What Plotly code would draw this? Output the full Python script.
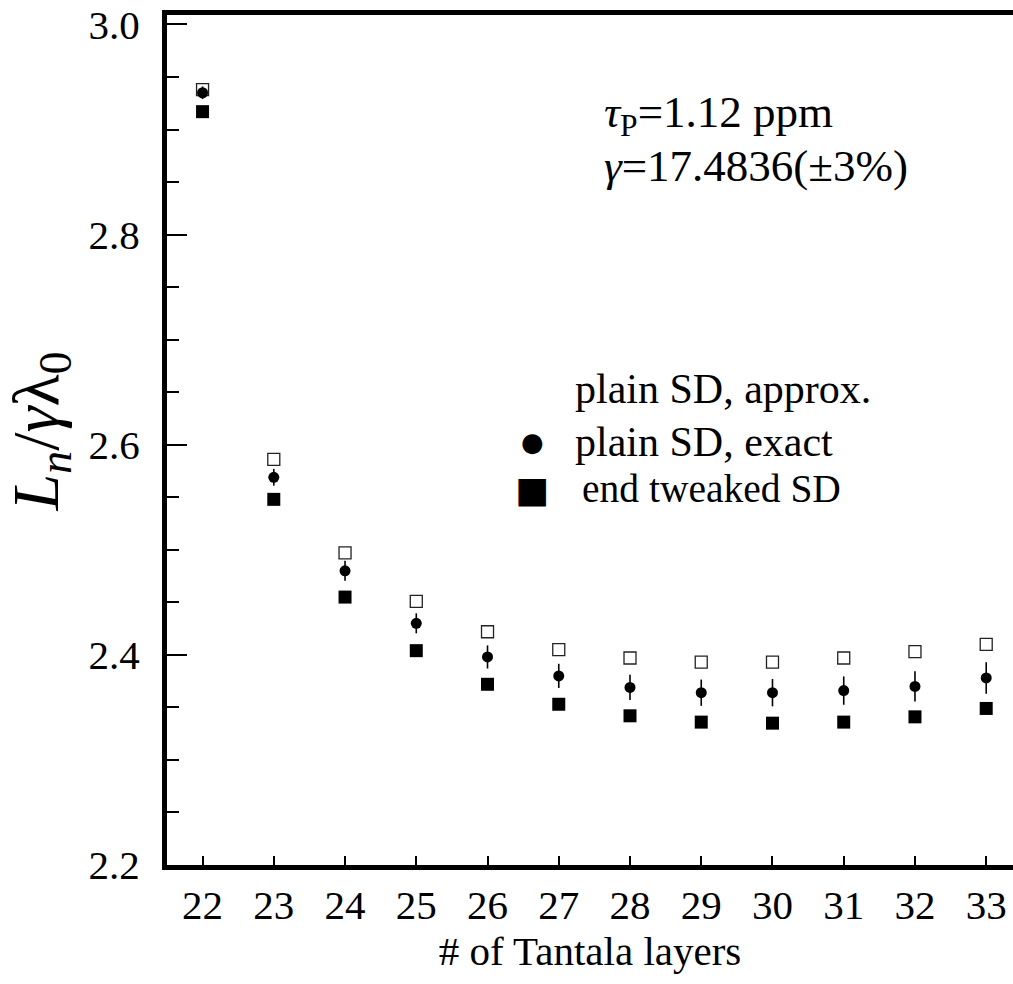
import plotly.graph_objects as go

# Number of Tantala layers in the coating stack
layers = [22, 23, 24, 25, 26, 27, 28, 29, 30, 31, 32, 33]

# Normalized length L_n / (gamma * lambda_0) for each design
plain_approx = [2.938, 2.586, 2.497, 2.451, 2.422, 2.405, 2.397, 2.393, 2.393, 2.397, 2.403, 2.410]
plain_exact = [2.935, 2.569, 2.480, 2.430, 2.398, 2.380, 2.369, 2.364, 2.364, 2.366, 2.370, 2.378]
plain_exact_err = [0.006, 0.008, 0.0095, 0.0095, 0.011, 0.0115, 0.012, 0.0125, 0.013, 0.0135, 0.0145, 0.015]
end_tweaked = [2.917, 2.548, 2.455, 2.404, 2.372, 2.353, 2.342, 2.336, 2.335, 2.336, 2.341, 2.349]

y_ticks = [2.2, 2.4, 2.6, 2.8, 3.0]
y_tick_text = ["2.2", "2.4", "2.6", "2.8", "3.0"]

SERIF = "Liberation Serif"

fig = go.Figure()

fig.add_trace(go.Scatter(
    x=layers, y=plain_approx, mode="markers", name="plain SD, approx.",
    marker=dict(symbol="square-open", size=12, color="#222", line=dict(width=1.3, color="#222")),
    showlegend=False,
))
fig.add_trace(go.Scatter(
    x=layers, y=plain_exact, mode="markers", name="plain SD, exact",
    marker=dict(symbol="circle", size=11, color="black"),
    error_y=dict(type="data", array=plain_exact_err, visible=True, color="black", thickness=1.6, width=0),
    showlegend=False,
))
fig.add_trace(go.Scatter(
    x=layers, y=end_tweaked, mode="markers", name="end tweaked SD",
    marker=dict(symbol="square", size=13, color="black"),
    showlegend=False,
))

# Parameter annotations
fig.add_annotation(
    xref="paper", yref="paper", x=0.514, y=0.882, xanchor="left", yanchor="middle",
    text="<i>τ</i><sub>P</sub>=1.12 ppm", showarrow=False,
    font=dict(family=SERIF, size=45, color="black"),
)
fig.add_annotation(
    xref="paper", yref="paper", x=0.514, y=0.822, xanchor="left", yanchor="middle",
    text="<i>γ</i>=17.4836(±3%)", showarrow=False,
    font=dict(family=SERIF, size=45, color="black"),
)

# Legend block drawn as text
legend_rows = [
    ("", "plain SD, approx.", 0.560, 42),
    ("●", "plain SD, exact", 0.498, 42),
    ("■", "end tweaked SD", 0.442, 39.5),
]
for glyph, label, yy, fs in legend_rows:
    if glyph:
        fig.add_annotation(
            xref="paper", yref="paper", x=0.432, y=yy, xanchor="center", yanchor="middle",
            text=glyph, showarrow=False,
            font=dict(family="DejaVu Sans", size=26 if glyph == "●" else 36, color="black"),
        )
    fig.add_annotation(
        xref="paper", yref="paper", x=0.48 if glyph != "■" else 0.488, y=yy,
        xanchor="left", yanchor="middle",
        text=label, showarrow=False,
        font=dict(family=SERIF, size=fs, color="black"),
    )

# Y-axis title
fig.add_annotation(
    xref="paper", yref="paper", x=-0.15, y=0.51, xanchor="center", yanchor="middle",
    text="<i>L</i><sub><i>n</i></sub>/<i>γ</i>λ<sub>0</sub>", showarrow=False, textangle=-90,
    font=dict(family=SERIF, size=66, color="black"),
)

fig.update_layout(
    width=1013, height=984,
    margin=dict(l=167, r=0, t=15, b=119),
    paper_bgcolor="white", plot_bgcolor="white",
    font=dict(family=SERIF, size=40, color="black"),
    xaxis=dict(
        range=[21.501, 33.376], tickvals=layers, ticktext=[str(v) for v in layers],
        ticks="inside", ticklen=9, tickwidth=1.5, tickcolor="black",
        showline=True, linewidth=5, linecolor="black", mirror=True,
        showgrid=False, zeroline=False,
        tickfont=dict(family=SERIF, size=41),
        title=dict(text="# of Tantala layers", font=dict(family=SERIF, size=41), standoff=10),
    ),
    yaxis=dict(
        range=[2.2, 3.009], tickvals=y_ticks, ticktext=y_tick_text,
        ticks="inside", ticklen=20, tickwidth=1.8, tickcolor="black",
        minor=dict(dtick=0.05, tick0=2.2, ticks="inside", ticklen=12, tickwidth=1.5, tickcolor="black", showgrid=False),
        showline=True, linewidth=5, linecolor="black", mirror=False,
        showgrid=False, zeroline=False,
        tickfont=dict(family=SERIF, size=41),
        ticklabelstandoff=14,
    ),
)

fig.write_html("out.html")
